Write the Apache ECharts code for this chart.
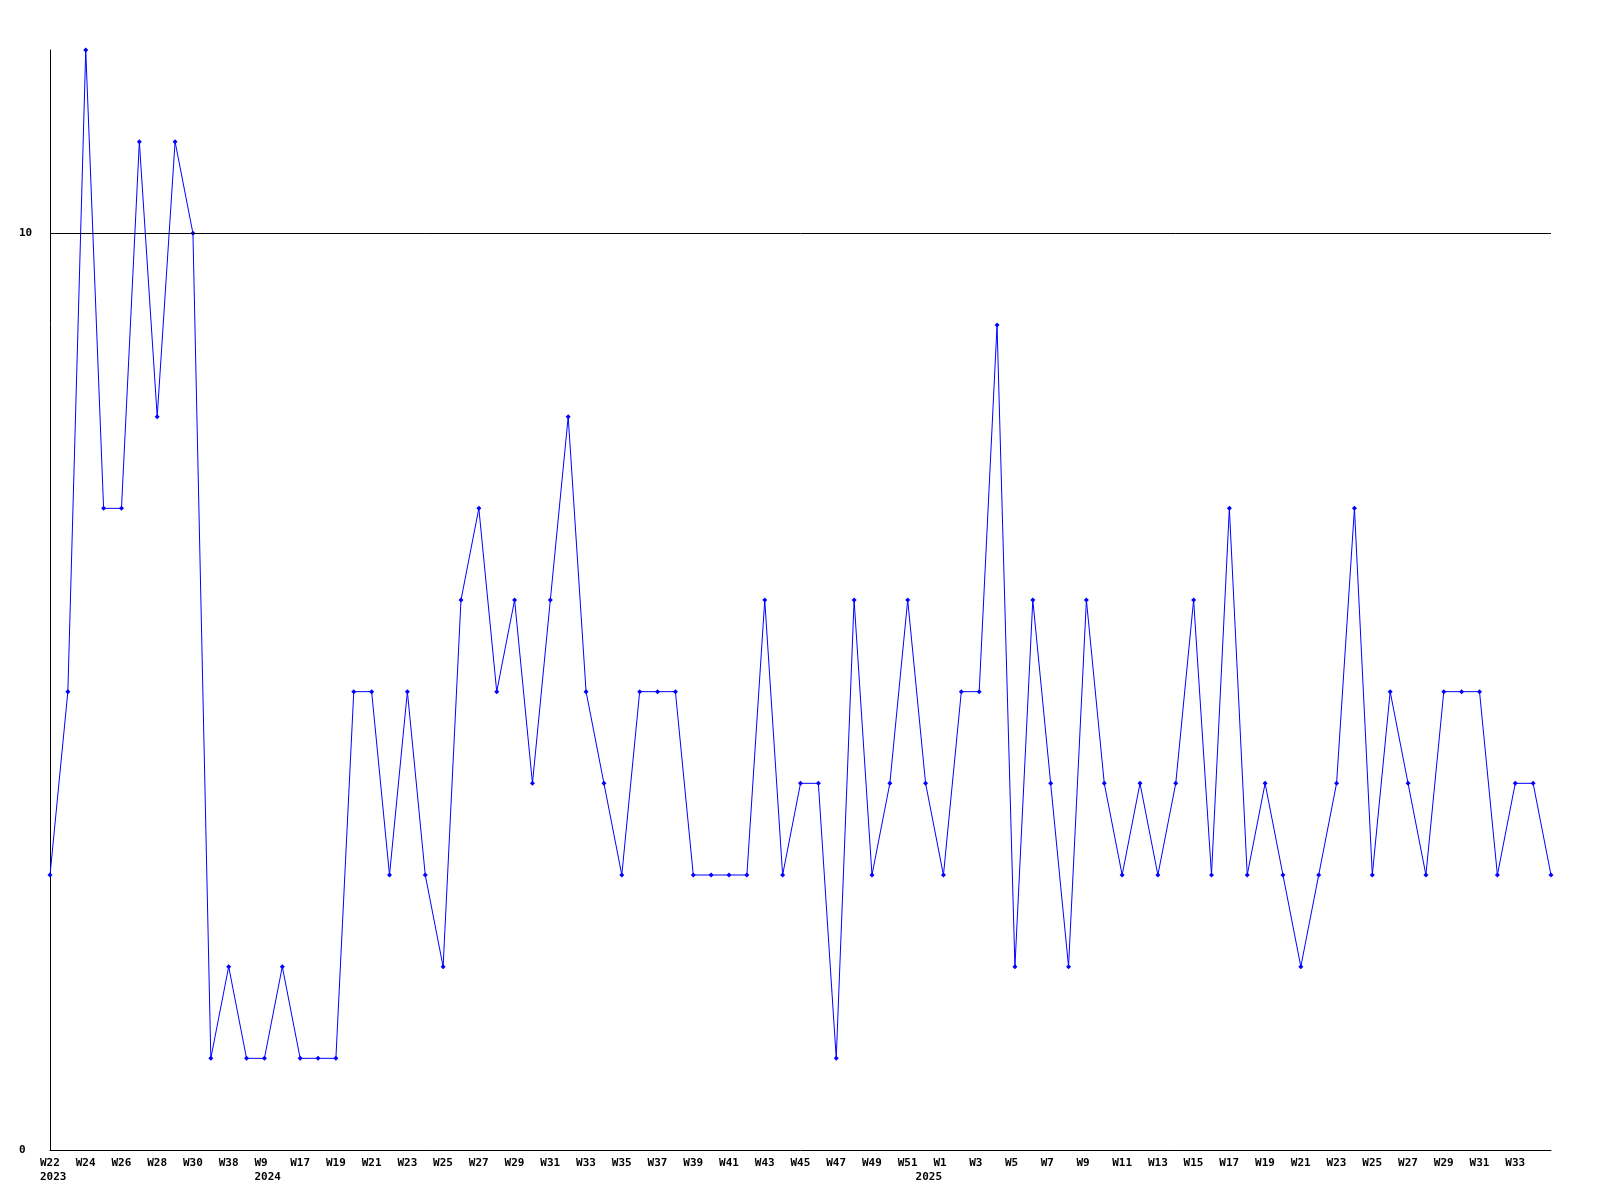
<!DOCTYPE html>
<html>
<head>
<meta charset="utf-8">
<script src="https://cdn.jsdelivr.net/npm/echarts@6/dist/echarts.min.js"></script>
<style>html,body{margin:0;padding:0;background:#fff;}#c{width:1600px;height:1200px;}</style>
</head>
<body>
<div id="c"></div>
<script>
// Categories: year and week of each point
const years = [2023,2023,2023,2023,2023,2023,2023,2023,2023,2023,2023,2023,
  2024,2024,2024,2024,2024,2024,2024,2024,2024,2024,2024,2024,2024,2024,2024,2024,2024,2024,2024,2024,2024,2024,2024,2024,2024,2024,2024,2024,2024,2024,2024,2024,2024,2024,2024,2024,2024,
  2025,2025,2025,2025,2025,2025,2025,2025,2025,2025,2025,2025,2025,2025,2025,2025,2025,2025,2025,2025,2025,2025,2025,2025,2025,2025,2025,2025,2025,2025,2025,2025,2025,2025,2025,2025];
const weeks = [22,23,24,25,26,27,28,29,30,35,38,47,
  9,13,17,18,19,20,21,22,23,24,25,26,27,28,29,30,31,32,33,34,35,36,37,38,39,40,41,42,43,44,45,46,47,48,49,50,51,
  0,1,2,3,4,5,6,7,8,9,10,11,12,13,14,15,16,17,18,19,20,21,22,23,24,25,26,27,28,29,30,31,32,33,34,35];
const values = [3,5,12,7,7,11,8,11,10,1,2,1,
  1,2,1,1,1,5,5,3,5,3,2,6,7,5,6,4,6,8,5,4,3,5,5,5,3,3,3,3,6,3,4,4,1,6,3,4,6,4,
  3,5,5,9,2,6,4,2,6,4,3,4,3,4,6,3,7,3,4,3,2,3,4,7,3,5,4,3,5,5,5,3,4,4,3];
const yTicks = [0, 10];

const categories = weeks.map((w, i) => years[i] + '-W' + w);

const chart = echarts.init(document.getElementById('c'));
const font = '"DejaVu Sans Mono", monospace';
const labelBase = {fontFamily: font, fontWeight: 'bold', fontSize: 11, color: '#000',
  lineHeight: 15, align: 'left', padding: [0, 0, 0, -10]};
chart.setOption({
  animation: false,
  backgroundColor: '#ffffff',
  grid: {left: 50, right: 49, top: 50, bottom: 50, containLabel: false},
  xAxis: [{
    type: 'category',
    data: categories,
    boundaryGap: false,
    axisLine: {show: true, lineStyle: {color: '#000', width: 1}},
    axisTick: {show: false},
    splitLine: {show: false},
    axisLabel: Object.assign({}, labelBase, {
      interval: function (idx) { return idx % 2 === 0 && idx < 84; },
      margin: 6,
      formatter: function (v, idx) { return 'W' + weeks[idx]; }
    })
  }, {
    type: 'category',
    data: categories,
    position: 'bottom',
    boundaryGap: false,
    axisLine: {show: false},
    axisTick: {show: false},
    splitLine: {show: false},
    axisLabel: Object.assign({}, labelBase, {
      interval: function (idx) { return idx === 0 || years[idx] !== years[idx - 1]; },
      margin: 20,
      formatter: function (v, idx) { return String(years[idx]); }
    })
  }],
  yAxis: {
    type: 'value',
    min: 0, max: 12, interval: 10,
    axisLine: {show: true, lineStyle: {color: '#000', width: 1}},
    axisTick: {show: false},
    splitLine: {show: false},
    axisLabel: {
      fontFamily: font, fontWeight: 'bold', fontSize: 11, color: '#000',
      align: 'left', margin: 31,
      formatter: function (v) { return yTicks.indexOf(v) >= 0 ? String(v) : ''; }
    }
  },
  series: [{
    type: 'line',
    data: values,
    lineStyle: {color: '#0000ff', width: 1},
    itemStyle: {color: '#0000ff'},
    symbol: 'diamond',
    symbolSize: 5,
    showAllSymbol: true,
    markLine: {
      silent: true,
      symbol: 'none',
      label: {show: false},
      lineStyle: {color: '#000', width: 1, type: 'solid'},
      data: [{yAxis: yTicks[1]}]
    }
  }]
});
</script>
</body>
</html>
